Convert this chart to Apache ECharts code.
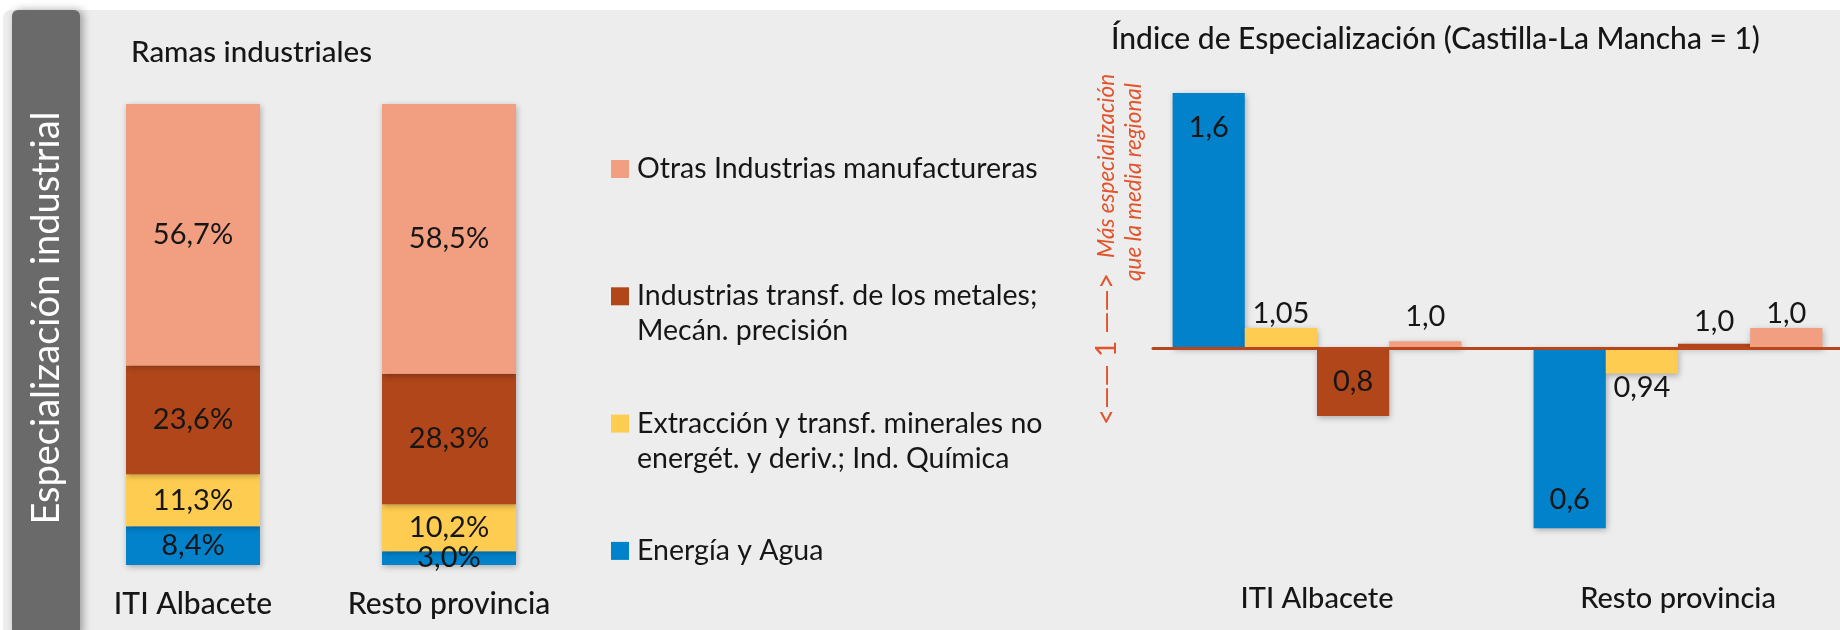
<!DOCTYPE html>
<html>
<head>
<meta charset="utf-8">
<script src="https://cdn.jsdelivr.net/npm/echarts@6/dist/echarts.min.js"></script>
<style>
  html, body { margin: 0; padding: 0; background: #fff; }
  #chart { width: 1840px; height: 630px; }
</style>
</head>
<body>
<div id="chart"></div>
<script>
// categorías
const categories = ['ITI Albacete', 'Resto provincia'];

// ramas industriales (orden de apilado: de abajo arriba)
const ramas = [
  'Energía y Agua',
  'Extracción y transf. minerales no energét. y deriv.; Ind. Química',
  'Industrias transf. de los metales; Mecán. precisión',
  'Otras Industrias manufactureras'
];
const ramasLegend = [
  'Energía y Agua',
  'Extracción y transf. minerales no\nenergét. y deriv.; Ind. Química',
  'Industrias transf. de los metales;\nMecán. precisión',
  'Otras Industrias manufactureras'
];
const colors = ['#0282CB', '#FECC50', '#B0461A', '#F29F81'];

// peso de cada rama (%), [ITI, Resto]
const pctEnergia = [8.4, 3.0];
const pctExtraccion = [11.3, 10.2];
const pctMetales = [23.6, 28.3];
const pctOtras = [56.7, 58.5];

// índice de especialización (Castilla-La Mancha = 1), [ITI, Resto]
const idxEnergia = [1.6, 0.576];
const idxExtraccion = [1.047, 0.94];
const idxMetales = [0.84, 1.01];
const idxOtras = [1.016, 1.047];

// etiquetas tal como aparecen en el gráfico
const lblEnergia = ['1,6', '0,6'];
const lblExtraccion = ['1,05', '0,94'];
const lblMetales = ['0,8', '1,0'];
const lblOtras = ['1,0', '1,0'];

const FONT = 'Lato';
const TXT = '#161616';
const ORANGE = '#E2532A';
const BASE = '#B8461C';

const chart = echarts.init(document.getElementById('chart'), null, { renderer: 'canvas' });

const pctSeries = [pctEnergia, pctExtraccion, pctMetales, pctOtras];
const idxSeries = [idxEnergia, idxExtraccion, idxMetales, idxOtras];
const idxLabels = [lblEnergia, lblExtraccion, lblMetales, lblOtras];
// posición de la etiqueta de cada barra del índice
const idxLabelPos = [
  [{ position: 'insideTop', distance: 20 }, { position: 'insideBottom', distance: 14 }],
  [{ position: 'top', distance: 0 }, { position: 'bottom', distance: 0 }],
  [{ position: 'inside' }, { position: 'top', distance: 8 }],
  [{ position: 'top', distance: 10 }, { position: 'top', distance: 0 }]
];

const barShadow = { shadowBlur: 6, shadowColor: 'rgba(0,0,0,0.28)', shadowOffsetX: 1, shadowOffsetY: 2 };

const series = [];
ramas.forEach((name, k) => {
  series.push({
    name,
    type: 'bar',
    stack: 'ramas',
    xAxisIndex: 0,
    yAxisIndex: 0,
    barWidth: 134,
    data: pctSeries[k],
    itemStyle: Object.assign({ color: colors[k] }, barShadow),
    label: {
      show: true,
      position: 'inside',
      fontFamily: FONT,
      fontSize: 29,
      color: TXT,
      formatter: p => p.value.toFixed(1).replace('.', ',') + '%'
    }
  });
});
ramas.forEach((name, k) => {
  series.push({
    name: name + ' (índice)',
    type: 'bar',
    xAxisIndex: 1,
    yAxisIndex: 1,
    barGap: '0%',
    barCategoryGap: '20%',
    // desviación respecto a la media regional (= 1)
    data: idxSeries[k].map((v, i) => ({
      value: +(v - 1).toFixed(3),
      label: Object.assign({ formatter: idxLabels[k][i] }, idxLabelPos[k][i])
    })),
    itemStyle: Object.assign({ color: colors[k] }, barShadow),
    label: { show: true, fontFamily: FONT, fontSize: 29, color: TXT }
  });
});

// leyenda (a mano, para alinear el cuadrado con la primera línea)
const legendGraphics = [];
[3, 2, 1, 0].forEach((k, row) => {
  const y = 169 + row * 127.3;
  legendGraphics.push({ type: 'rect', shape: { x: 611, y: y - 9, width: 18, height: 18 }, style: { fill: colors[k] } });
  legendGraphics.push({
    type: 'text', x: 637, y: y - 17.5,
    style: { text: ramasLegend[k], font: '28.5px ' + FONT, fill: TXT, lineHeight: 35, verticalAlign: 'top' }
  });
});

const titleStyle = { fontFamily: FONT, fontSize: 29.5, fontWeight: 500, color: TXT };

const option = {
  animation: false,
  textStyle: { fontFamily: FONT },
  title: [
    { text: 'Ramas industriales', left: 131, top: 37, padding: 0, textStyle: titleStyle },
    { text: 'Índice de Especialización (Castilla-La Mancha = 1)', left: 1111, top: 24, padding: 0, textStyle: Object.assign({}, titleStyle, { fontSize: 30 }) }
  ],
  grid: [
    { left: 65, width: 512, top: 104, bottom: 65, outerBoundsMode: 'none' },
    // el área se sale un poco por la derecha, como en el original
    { left: 1136.5, width: 722, top: 50.5, bottom: 61, outerBoundsMode: 'none' },
    { left: 1153, right: 0, top: 50.5, bottom: 61, outerBoundsMode: 'none' }
  ],
  xAxis: [
    {
      type: 'category', gridIndex: 0, data: categories,
      axisLine: { show: false }, axisTick: { show: false },
      axisLabel: { interval: 0, fontFamily: FONT, fontSize: 30, fontWeight: 500, color: TXT, margin: 24 }
    },
    {
      type: 'category', gridIndex: 1, data: categories,
      axisLine: { show: false }, axisTick: { show: false },
      axisLabel: { interval: 0, fontFamily: FONT, fontSize: 29, fontWeight: 500, color: TXT, margin: 15 }
    },
    {
      // línea de referencia (índice = 1)
      type: 'category', gridIndex: 2, data: categories, z: 5,
      axisLine: { show: true, onZero: true, lineStyle: { color: BASE, width: 3 } },
      axisTick: { show: false }, axisLabel: { show: false }
    }
  ],
  yAxis: [
    { type: 'value', gridIndex: 0, min: 0, max: 100, show: false },
    { type: 'value', gridIndex: 1, min: -0.52, max: 0.7, show: false },
    { type: 'value', gridIndex: 2, min: -0.52, max: 0.7, show: false }
  ],
  graphic: [
    { type: 'rect', z: -10, shape: { x: 3, y: 10, width: 1837, height: 620, r: [8, 0, 0, 0] }, style: { fill: '#EDEDED' } },
    {
      type: 'rect', z: -9, shape: { x: 12, y: 10, width: 68, height: 625, r: [6, 6, 0, 0] },
      style: { fill: '#6A6A6A', shadowBlur: 8, shadowColor: 'rgba(0,0,0,0.35)', shadowOffsetX: 3 }
    },
    {
      type: 'text', x: 47, y: 318, rotation: Math.PI / 2,
      style: { text: 'Especialización industrial', font: '38px ' + FONT, fill: '#fff', align: 'center', verticalAlign: 'middle' }
    },
    {
      type: 'text', x: 1107, y: 166, rotation: Math.PI / 2,
      style: { text: 'Más especialización', font: 'italic 22.5px ' + FONT, fill: ORANGE, align: 'center', verticalAlign: 'middle' }
    },
    {
      type: 'text', x: 1134, y: 182, rotation: Math.PI / 2,
      style: { text: 'que la media regional', font: 'italic 22.5px ' + FONT, fill: ORANGE, align: 'center', verticalAlign: 'middle' }
    },
    {
      type: 'text', x: 1107, y: 349, rotation: Math.PI / 2,
      style: { text: '<—— 1 ——>', font: '28px ' + FONT, fill: ORANGE, align: 'center', verticalAlign: 'middle' }
    }
  ].concat(legendGraphics),
  series
};

chart.setOption(option);
</script>
</body>
</html>
